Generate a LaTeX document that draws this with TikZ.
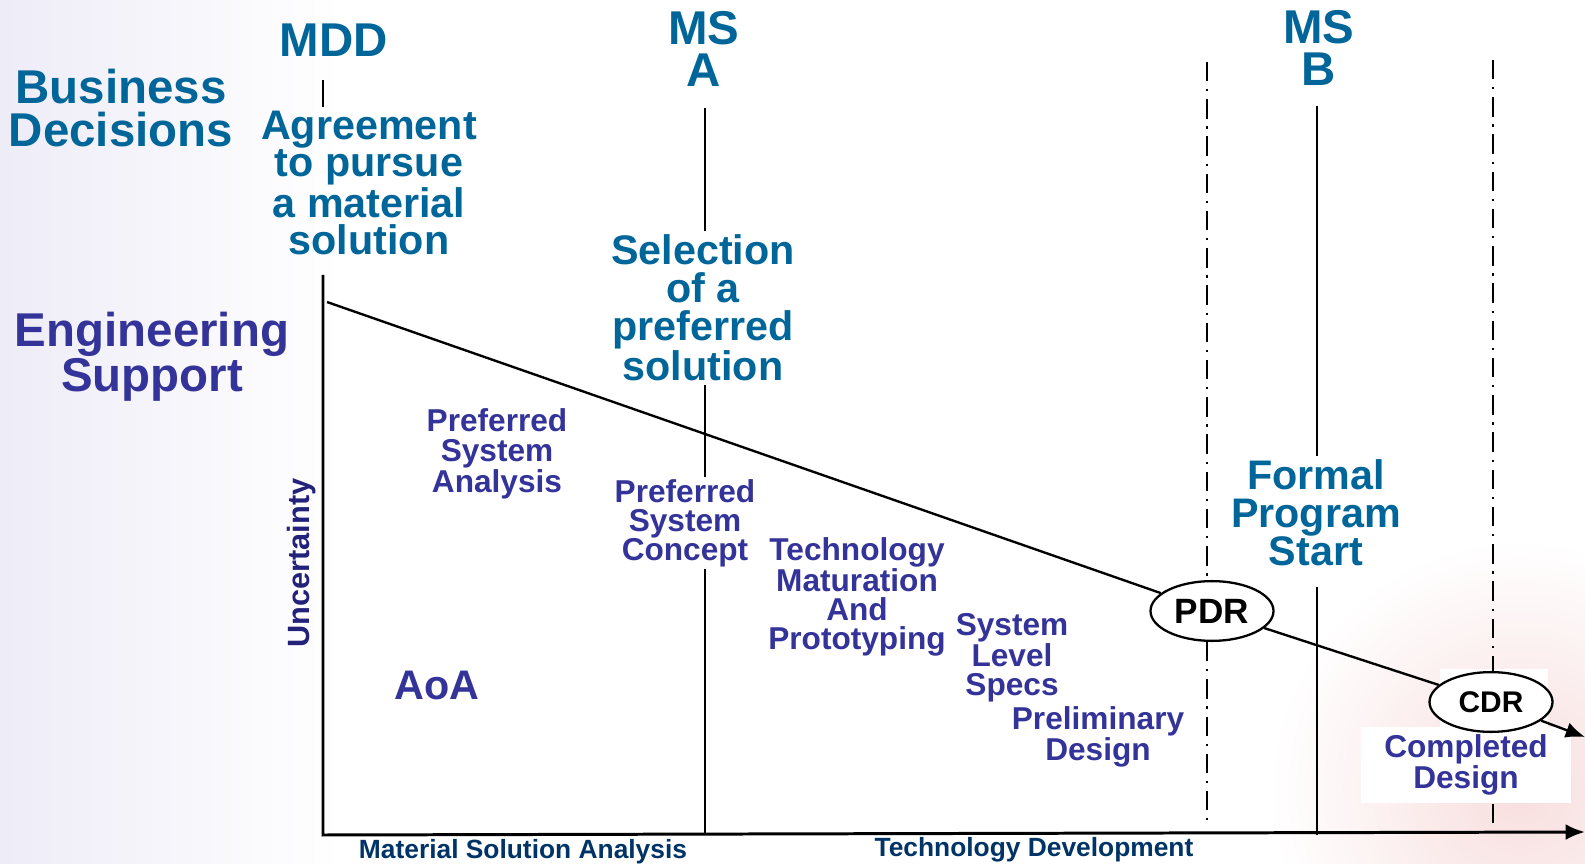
\documentclass[tikz,border=0pt]{standalone}
\usepackage{fontspec}
\setmainfont{Liberation Sans}
\usetikzlibrary{arrows.meta,shapes.geometric}
\definecolor{msteal}{HTML}{006699}
\definecolor{enpurple}{HTML}{333399}
\definecolor{phnavy}{HTML}{003366}
\definecolor{uncnavy}{HTML}{22227A}
\definecolor{lavbg}{HTML}{EEECF7}
\definecolor{pinkbg}{HTML}{F8DEDE}

\begin{document}
\begin{tikzpicture}[x=0.02cm,y=-0.02cm,
    decision/.style={text=msteal,font=\bfseries\fontsize{23.5}{21.5}\selectfont,align=center,inner sep=2pt},
    milestone/.style={text=msteal,font=\bfseries\fontsize{27}{24}\selectfont,align=center},
    activity/.style={text=enpurple,font=\bfseries\fontsize{18}{16.6}\selectfont,align=center,inner sep=1pt},
    review/.style={draw,ellipse,line width=1.3pt,fill=white,inner sep=0pt,minimum width=70pt,minimum height=34pt},
    phase/.style={text=phnavy,font=\bfseries\fontsize{15}{15}\selectfont},
    vline/.style={line width=1.35pt},
    gate/.style={line width=1.3pt,dash pattern=on 11pt off 4.5pt on 1.2pt off 4.5pt}]
    \useasboundingbox (0,0) rectangle (1585,864);
    \fill[white] (0,0) rectangle (1585,864);
    \shade[left color=lavbg,right color=white] (0,0) rectangle (340,864);
    \shade[inner color=pinkbg,outer color=white] (1520,790) circle (250);
    \fill[white] (1440,669) rectangle (1548,727);
    \fill[white] (642,2) rectangle (765,108);
    %
    \node[milestone,text=msteal] (busdec) at (121,108) {Business\\Decisions};
    \node[milestone,text=enpurple] (engsup) at (152,357) {Engineering\\Support};
    \node[milestone] (mdd) at (334,40) {MDD};
    \node[milestone] (msa) at (704,49) {MS\\A};
    \node[milestone] (msb) at (1319,48) {MS\\B};
    \node[decision] (agree) at (369,183) {Agreement\\to pursue\\a material\\solution};
    \node[decision] (sel) at (703,308) {Selection\\of a\\preferred\\solution};
    \node[decision] (fps) at (1316,513) {Formal\\Program\\Start};
    %
    \node[activity] (psa) at (497,454) {Preferred\\System\\Analysis};
    \node[activity] (psc) at (685,523) {Preferred\\System\\Concept};
    \node[activity] (tmp) at (857,597) {Technology\\Maturation\\And\\Prototyping};
    \node[activity] (sls) at (1012,658) {System\\Level\\Specs};
    \node[activity] (prd) at (1098,737) {Preliminary\\Design};
    \node[activity,font=\bfseries\fontsize{23.5}{21.5}\selectfont] (aoa) at (437,685) {AoA};
    \node[activity,fill=white,minimum width=120pt,minimum height=43.6pt] (cdone) at (1466,765) {Completed\\Design};
    \node[text=uncnavy,font=\bfseries\fontsize{17.5}{17.5}\selectfont,rotate=90] (unc) at (302,563) {Uncertainty};
    \node[phase] (msaphase) at (523,852) {Material Solution Analysis};
    \node[phase] (tdphase) at (1034,850) {Technology Development};
    %
    \node[review,font=\bfseries\fontsize{20}{20}\selectfont] (pdr) at (1212,611) {PDR};
    \node[review,font=\bfseries\fontsize{17}{17}\selectfont] (cdr) at (1491,702) {CDR};
    %
    \coordinate (origin) at (323,835);
    \coordinate (ytop) at (323,275);
    \coordinate (xend) at (1585,832);
    \coordinate (mddtop) at (323,80);
    \coordinate (msabot) at (705,108);
    \coordinate (diagstart) at (327,302);
    \coordinate (cdrout) at (1585,737);
    \coordinate (msbtop) at (1317,106);
    \coordinate (msbmid) at (1317,587);
    \coordinate (pdrtop) at (1207,62);
    \coordinate (pdrbot) at (1207,823);
    \coordinate (cdrtop) at (1493,60);
    \coordinate (cdrbot) at (1493,825);
    %
    \draw[line width=1.7pt,-{Latex[length=11pt,width=9pt]}] (ytop) -- (origin) -- (xend);
    \draw[vline] (mddtop) -- (mddtop |- agree.north);
    \draw[vline] (msabot) -- (msabot |- sel.north);
    \draw[vline] (msabot |- sel.south) -- (msabot |- psc.north);
    \draw[vline] (msabot |- psc.south) -- (msabot |- origin);
    \draw[vline] (msbtop) -- (msbtop |- fps.north);
    \draw[vline] (msbmid) -- (msbmid |- origin);
    \draw[gate] (pdrtop) -- (pdrtop |- pdr.north);
    \draw[gate] (pdrtop |- pdr.south) -- (pdrbot);
    \draw[gate] (cdrtop) -- (cdrtop |- cdr.north);
    \draw[gate] (cdrtop |- cdone.south) -- (cdrbot);
    %
    \draw[vline] (diagstart) -- (pdr);
    \draw[vline] (pdr) -- (cdr);
    \draw[vline,-{Latex[length=11pt,width=9pt]}] (cdr) -- (cdrout);
\end{tikzpicture}
\end{document}
